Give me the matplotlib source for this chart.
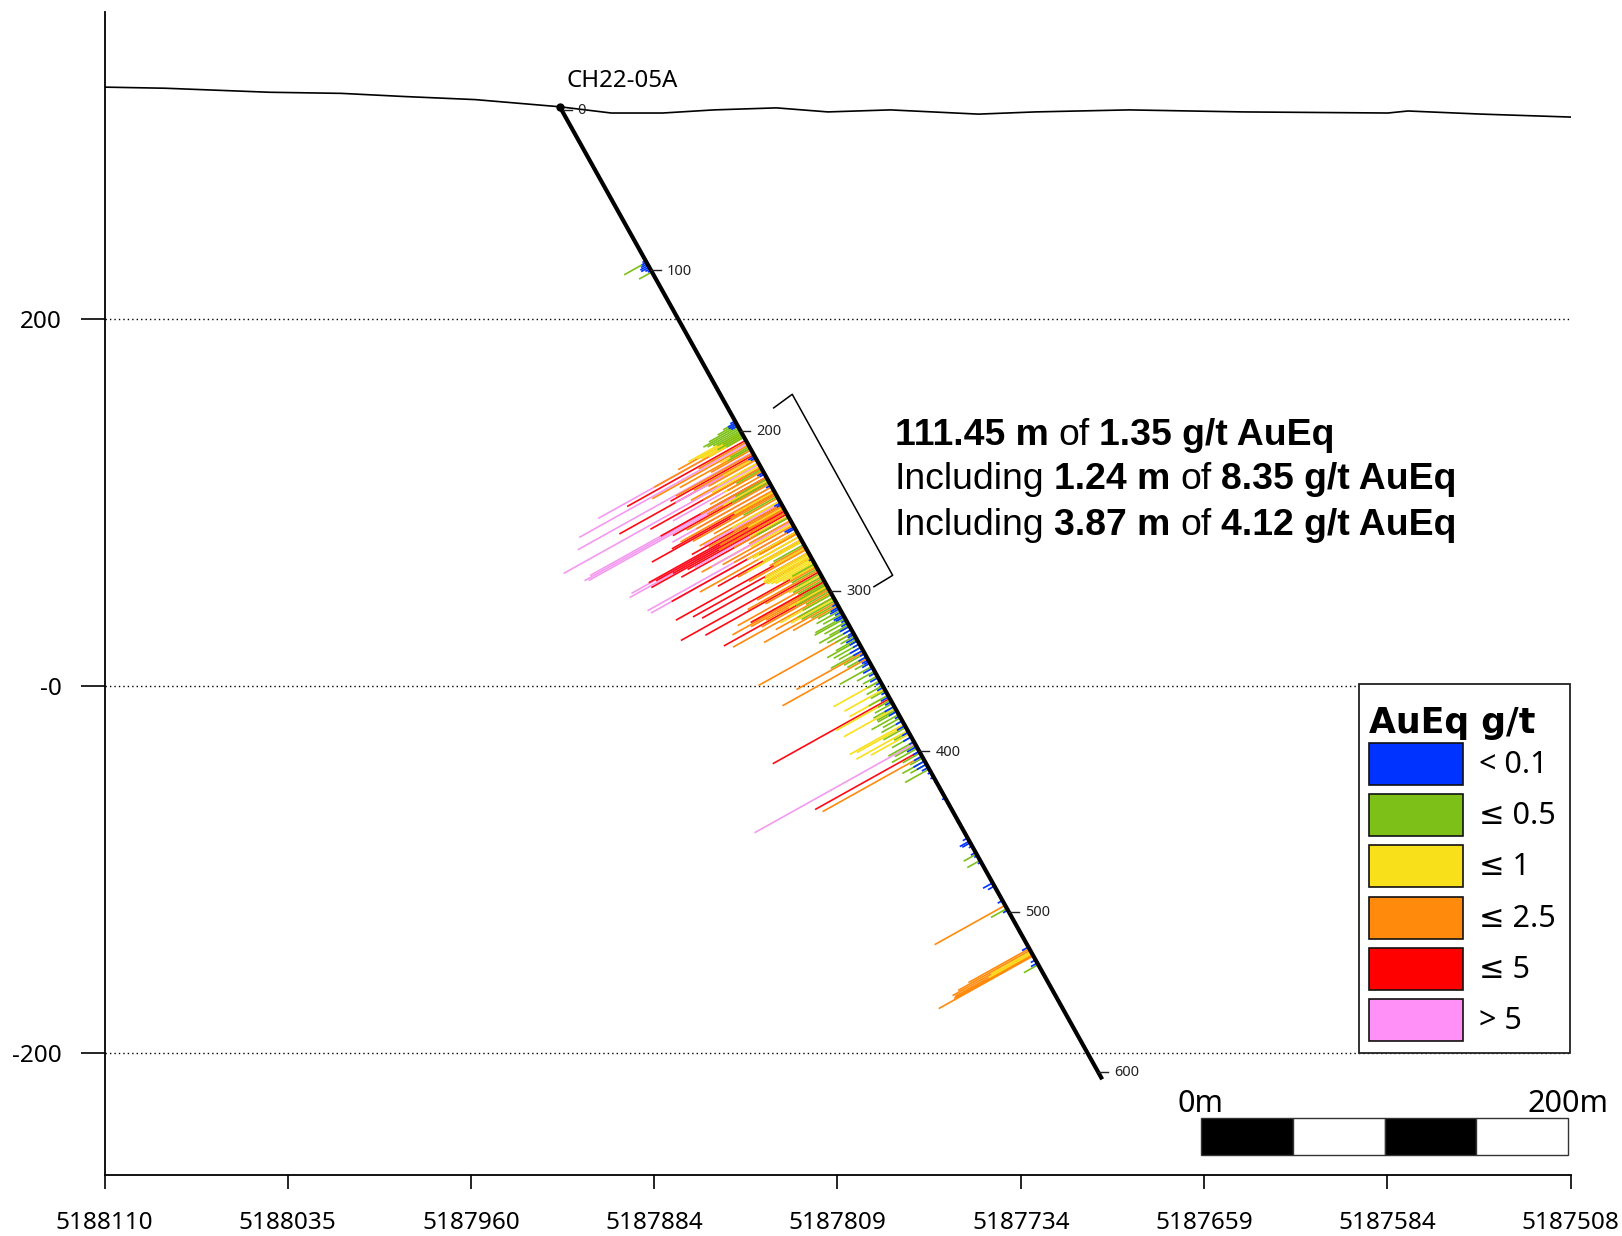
import math
import matplotlib
matplotlib.use('Agg')
import matplotlib.pyplot as plt
from matplotlib.patches import Rectangle

plt.rcParams['font.family'] = ['Noto Sans', 'DejaVu Sans']

# section position (m along section) and elevation of the ground line
ground_x = [0, 33, 90, 129, 163, 202, 248, 276, 304, 332, 366, 394, 428, 476, 507, 558, 620, 699, 710, 750, 798.5]
ground_y = [326.2, 325.6, 323.4, 322.8, 321.1, 319.4, 315.5, 312.1, 312.1, 313.8, 314.9, 312.7, 313.8, 311.5,
            312.7, 313.8, 312.7, 312.1, 313.2, 311.5, 309.9]

x_ticks = [0, 99.8, 199.6, 299.4, 399.2, 499.1, 598.9, 698.7, 798.5]
x_labels = ['5188110', '5188035', '5187960', '5187884', '5187809', '5187734', '5187659', '5187584', '5187508']
y_ticks = [200, 0, -200]
y_labels = ['200', '-0', '-200']

hole_name = 'CH22-05A'
collar_x = 248.0
collar_y = 315.5
hole_dip = 60.85
hole_depth = 606.5
depth_marks = [0, 100, 200, 300, 400, 500, 600]

# assays: depth down the hole, bar length
blue_d = [94, 96, 97, 98, 99, 100, 101, 102, 105, 196, 197, 198, 199, 218, 219, 228, 229, 236, 247, 248, 262, 263, 282,
          310, 312, 313, 315, 317, 318, 320, 322, 324, 326, 328, 329, 331, 333, 335, 337, 339, 341, 343, 345, 346, 347,
          350, 353, 356, 359, 362, 365, 368, 371, 374, 377, 380, 383, 386, 390, 393, 396, 399, 402, 405, 408, 410, 412,
          415, 418, 421, 425, 431, 446, 456, 458, 459, 461, 465, 467, 471, 484, 486, 495, 501, 515, 524, 532, 534]
blue_l = [1, 2, 3, 4, 5, 5, 3, 2, 1, 3, 5, 5, 4, 4, 3, 4, 3, 3, 4, 3, 6, 5, 2,
          3, 5, 6, 4, 6, 5, 3, 4, 6, 5, 3, 4, 6, 5, 4, 7, 6, 3, 5, 4, 3, 5,
          6, 4, 5, 3, 4, 3, 5, 4, 6, 5, 3, 4, 5, 4, 5, 3, 6, 4, 5, 7, 6, 4,
          2, 2, 1, 1, 2, 1, 3, 6, 5, 2, 3, 2, 2, 6, 4, 3, 3, 1, 4, 3, 4]

green_d = [97, 103, 197, 198, 199, 200, 201, 202, 203, 204, 205, 206, 212, 213,
           226, 232, 234, 243, 256, 273, 285, 288, 291,
           293, 295, 297, 298, 300, 302, 304, 306, 308, 310, 312, 314, 316, 318, 319, 321, 323, 324, 326, 328, 330,
           332, 333, 335, 337, 339, 341, 343, 346, 349, 352, 355, 358, 361, 364, 367, 370, 372, 374, 376, 377, 379,
           381, 383, 387, 390, 393, 396, 398, 400, 403, 406, 408, 410, 413, 466, 470, 500, 535]
green_l = [14, 8, 8, 12, 18, 22, 20, 17, 15, 12, 16, 11, 12, 14,
           16, 20, 23, 21, 20, 19, 14, 16, 15,
           18, 16, 14, 17, 20, 15, 18, 22, 21, 16, 13, 15, 12, 18, 19, 14, 12, 19, 15, 11, 9,
           13, 19, 16, 14, 20, 13, 12, 9, 20, 11, 9, 8, 10, 9, 12, 8, 11, 13, 12, 12, 17,
           11, 13, 14, 9, 12, 16, 13, 16, 11, 8, 14, 10, 15, 8, 8, 10, 9]

yellow_d = [203, 204, 205, 206, 212, 219, 222, 224, 227, 233, 240, 246, 250, 255, 260, 265, 266, 268, 270, 271,
            275, 278, 279, 280, 281, 282, 283, 284, 285, 286, 292, 299, 304, 307, 358, 363, 367, 370, 375, 385, 386,
            389, 391, 527, 528]
yellow_l = [33, 28, 26, 22, 18, 20, 26, 30, 24, 28, 25, 30, 22, 24, 26, 31, 28, 26, 24, 34,
            20, 27, 28, 29, 29, 28, 26, 24, 20, 16, 20, 24, 32, 27, 29, 25, 24, 34, 32, 34, 30,
            32, 24, 25, 27]

orange_d = [204, 206, 209, 211, 213, 214, 216, 218, 220, 222, 225, 227, 229, 231, 233, 235, 237, 239,
            241, 242, 244, 246, 248, 249, 251, 253, 256, 258, 259, 261, 263, 266, 268, 271, 274, 276,
            287, 289, 291, 294, 296, 297, 298, 299, 301, 303, 306, 309, 311, 328, 340, 344, 405,
            498, 525, 526, 527, 528, 528.7, 529, 529.5]
orange_l = [40, 56, 30, 60, 44, 25, 48, 38, 30, 42, 36, 22, 34, 41, 38, 52, 47, 58,
            28, 52, 40, 50, 30, 46, 40, 42, 34, 26, 56, 44, 38, 24, 62, 40, 22, 36,
            37, 44, 34, 53, 46, 58, 47, 38, 42, 61, 36, 45, 28, 59, 42, 53, 62,
            44, 38, 45, 49, 48, 49, 48, 59]

red_d = [208, 217, 219, 225, 231, 234, 240, 241, 248, 250, 251, 252, 253, 254, 256, 265, 270,
         275, 278, 281, 286, 290, 296, 300, 369, 402]
red_l = [74, 52, 85, 69, 66, 60, 64, 77, 56, 84, 80, 70, 84, 62, 67, 78, 52,
         81, 72, 68, 84, 71, 46, 65, 73, 65]

pink_d = [206, 210, 215.5, 219, 223, 227, 231, 232, 233, 237, 247, 250.5, 252, 255, 259, 263, 265, 397]
pink_l = [91, 105, 109, 50, 122, 56, 110, 114, 112, 62, 48, 95, 97, 58, 50, 92, 91, 100]

bar_classes = [
    (blue_d, blue_l, '#0033ff'),
    (green_d, green_l, '#7dc118'),
    (yellow_d, yellow_l, '#f8e01a'),
    (orange_d, orange_l, '#ff8a0c'),
    (red_d, red_l, '#ff0a14'),
    (pink_d, pink_l, '#f49af0'),
]

intercept_lines = [
    [('111.45 m', True), ('of', False), ('1.35 g/t AuEq', True)],
    [('Including', False), ('1.24 m', True), ('of', False), ('8.35 g/t AuEq', True)],
    [('Including', False), ('3.87 m', True), ('of', False), ('4.12 g/t AuEq', True)],
]

legend_title = 'AuEq g/t'
legend_labels = ['< 0.1', '≤ 0.5', '≤ 1', '≤ 2.5', '≤ 5', '> 5']
legend_colors = ['#0033ff', '#7dc118', '#f8e01a', '#ff8a0c', '#ff0000', '#ff90f8']

W, H = 1622, 1236


def hole_point(depth, offset=0.0):
    # point at a depth down the hole, offset is square to the hole toward the footwall side
    rad = math.radians(hole_dip)
    x = collar_x + depth * math.cos(rad) - offset * math.sin(rad)
    y = collar_y - depth * math.sin(rad) - offset * math.cos(rad)
    return x, y


fig = plt.figure(figsize=(W / 100, H / 100), dpi=100)
ax = fig.add_axes([104.5 / W, 1 - 1175 / H, 1466 / W, (1175 - 12.4) / H])
ax.set_xlim(0, 798.5)
ax.set_ylim(-266.3, 366.9)

for s in ['top', 'right']:
    ax.spines[s].set_visible(False)
for s in ['left', 'bottom']:
    ax.spines[s].set_linewidth(1.3)

ax.set_xticks(x_ticks)
ax.set_xticklabels(x_labels, fontsize=17.5)
ax.set_yticks(y_ticks)
ax.set_yticklabels(y_labels, fontsize=17.5)
ax.tick_params(axis='x', length=10, width=1.2, pad=16)
ax.tick_params(axis='y', length=17, width=1.2, pad=14)

for v in y_ticks:
    ax.axhline(v, color='black', lw=1.0, ls=(0, (1, 2.2)), zorder=1)

ax.plot(ground_x, ground_y, color='black', lw=1.2, zorder=2)

# longest first so the short assays stay visible next to the hole
bars = []
for depths, lengths, color in bar_classes:
    for d, l in zip(depths, lengths):
        bars.append((l, d, color))
bars.sort(key=lambda b: -b[0])
for l, d, color in bars:
    x0, y0 = hole_point(d)
    x1, y1 = hole_point(d, l)
    ax.plot([x0, x1], [y0, y1], color=color, lw=1.2, solid_capstyle='butt', zorder=3)

x0, y0 = hole_point(0)
x1, y1 = hole_point(hole_depth)
ax.plot([x0, x1], [y0, y1], color='black', lw=3.0, solid_capstyle='butt', zorder=4)
ax.plot([x0], [y0], 'o', color='black', ms=5, zorder=5)

for d in depth_marks:
    x0, y0 = hole_point(d + 1.9)
    ax.plot([x0, x0 + 5.5], [y0, y0], color='#222222', lw=1.0, zorder=4)
    ax.text(x0 + 8.8, y0 - 0.5, str(d), fontsize=10.5, ha='left', va='center', color='#222222')

ax.text(collar_x + 3.5, collar_y + 14, hole_name, fontsize=17.3, ha='left', va='center')

# bracket over the main intercept
ax.plot([364.5, 374.6, 429.3, 419.1], [151.5, 158.9, 60.3, 54.1], color='black', lw=1.1, zorder=3)

# scale bar, 200 m in four parts
bar_left = 597.2
for i in range(4):
    ax.add_patch(Rectangle((bar_left + i * 50, -255.2), 50, 19.7, facecolor='black' if i % 2 == 0 else 'white',
                           edgecolor='#333333', lw=1.0, zorder=3))
ax.text(bar_left, -227.5, '0m', fontsize=22, ha='center', va='center')
ax.text(bar_left + 200, -227.5, '200m', fontsize=22, ha='center', va='center')

# overlay in picture pixels for legend and the intercept text
top = fig.add_axes([0, 0, 1, 1], facecolor='none')
top.set_xlim(0, W)
top.set_ylim(H, 0)
top.axis('off')

top.add_patch(Rectangle((1359, 684), 211, 369, facecolor='white', edgecolor='#222222', lw=1.3))
top.text(1369, 723, legend_title, fontsize=25, fontweight='bold', family=['DejaVu Sans'], ha='left', va='center')
swatch_tops = [743, 794, 845, 897, 948, 999]
for yy, lab, col in zip(swatch_tops, legend_labels, legend_colors):
    top.add_patch(Rectangle((1369, yy), 94, 42, facecolor=col, edgecolor='#111111', lw=1.2))
    top.text(1479, yy + 22, lab, fontsize=22, ha='left', va='center')

fig.canvas.draw()
renderer = fig.canvas.get_renderer()
text_rows = [445, 489, 535]
for row, y_pos in zip(intercept_lines, text_rows):
    x_pos = 895
    for piece, bold in row:
        t = top.text(x_pos, y_pos, piece, fontsize=26.9, family=['Liberation Sans'],
                     fontweight='bold' if bold else 'normal', ha='left', va='baseline')
        x_pos += t.get_window_extent(renderer).width + 9.5

fig.savefig('out.png', dpi=100)
